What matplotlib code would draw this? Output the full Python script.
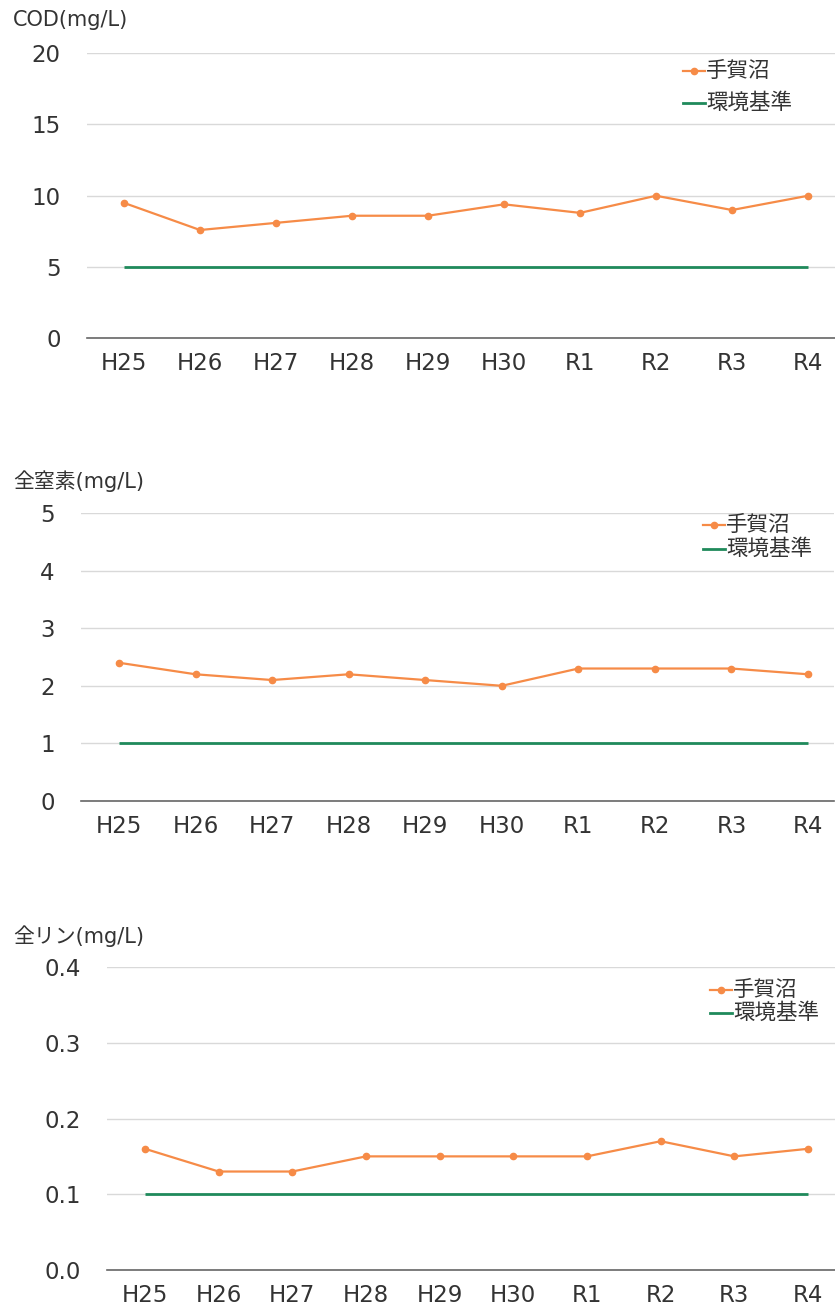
import matplotlib
matplotlib.use("Agg")
import matplotlib.pyplot as plt
from matplotlib.lines import Line2D

plt.rcParams['font.family'] = ['DejaVu Sans', 'Noto Sans CJK JP']

years = ["H25", "H26", "H27", "H28", "H29", "H30", "R1", "R2", "R3", "R4"]

cod_tega = [9.5, 7.6, 8.1, 8.6, 8.6, 9.4, 8.8, 10.0, 9.0, 10.0]
cod_std = 5

tn_tega = [2.4, 2.2, 2.1, 2.2, 2.1, 2.0, 2.3, 2.3, 2.3, 2.2]
tn_std = 1

tp_tega = [0.16, 0.13, 0.13, 0.15, 0.15, 0.15, 0.15, 0.17, 0.15, 0.16]
tp_std = 0.1

series_label = "手賀沼"
std_label = "環境基準"

ORANGE = "#F68B47"
GREEN = "#1F8A5B"
TEXT = "#333333"
GRID = "#D9D9D9"
SPINE = "#666666"

W, H = 835, 1307
fig = plt.figure(figsize=(W / 100, H / 100), dpi=100)
fig.patch.set_facecolor("white")


def add_panel(left, right, top, bottom, xfirst, xlast, ymax, yticks, ylabels,
              tega, std, title, title_y, leg_x, leg_y, leg_gap):
    ax = fig.add_axes([left / W, 1 - bottom / H, (right - left) / W, (bottom - top) / H])
    n = len(years)
    step = (xlast - xfirst) / (n - 1)
    ax.set_xlim(-(xfirst - left) / step, (n - 1) + (right - xlast) / step)
    ax.set_ylim(0, ymax)
    x = list(range(n))
    ax.plot(x, [std] * n, color=GREEN, lw=2.0, zorder=3, solid_capstyle="butt")
    ax.plot(x, tega, color=ORANGE, lw=1.6, marker="o", ms=4.5, zorder=4)
    ax.set_yticks(yticks)
    ax.set_yticklabels(ylabels)
    ax.set_xticks(x)
    ax.set_xticklabels(years)
    ax.grid(axis="y", color=GRID, lw=1.0)
    ax.set_axisbelow(True)
    for s in ("top", "right", "left"):
        ax.spines[s].set_visible(False)
    ax.spines["bottom"].set_color(SPINE)
    ax.spines["bottom"].set_linewidth(1.2)
    ax.tick_params(axis="both", length=0, labelsize=16.5, colors=TEXT)
    ax.tick_params(axis="y", pad=19)
    ax.tick_params(axis="x", pad=10)
    fig.text(13 / W, 1 - title_y / H, title, fontsize=15, color=TEXT,
             ha="left", va="center")
    # legend drawn as two handle + label rows
    for i, (lab, col, mk) in enumerate([(series_label, ORANGE, "o"), (std_label, GREEN, None)]):
        yy = 1 - (leg_y + i * leg_gap) / H
        x0, x1 = leg_x / W, (leg_x + 22) / W
        fig.add_artist(Line2D([x0, x1], [yy, yy], transform=fig.transFigure,
                              color=col, lw=1.6 if mk else 2.0))
        if mk:
            fig.add_artist(Line2D([(x0 + x1) / 2], [yy], transform=fig.transFigure,
                                  color=col, marker="o", ms=4.5, lw=0))
        fig.text(x1 + 1 / W, yy, lab, fontsize=15.5, color=TEXT, ha="left", va="center")
    return ax


add_panel(87, 835, 53, 338.5, 124, 808, 20, [0, 5, 10, 15, 20],
          ["0", "5", "10", "15", "20"], cod_tega, cod_std,
          "COD(mg/L)", 20, 683, 71, 32)

add_panel(81, 834, 513, 801, 119, 808, 5, [0, 1, 2, 3, 4, 5],
          ["0", "1", "2", "3", "4", "5"], tn_tega, tn_std,
          "全窒素(mg/L)", 481, 703, 525, 24)

add_panel(107, 835, 967, 1270, 145, 808, 0.4, [0.0, 0.1, 0.2, 0.3, 0.4],
          ["0.0", "0.1", "0.2", "0.3", "0.4"], tp_tega, tp_std,
          "全リン(mg/L)", 936, 710, 990, 23)

fig.savefig("out.png", dpi=100, facecolor="white")
